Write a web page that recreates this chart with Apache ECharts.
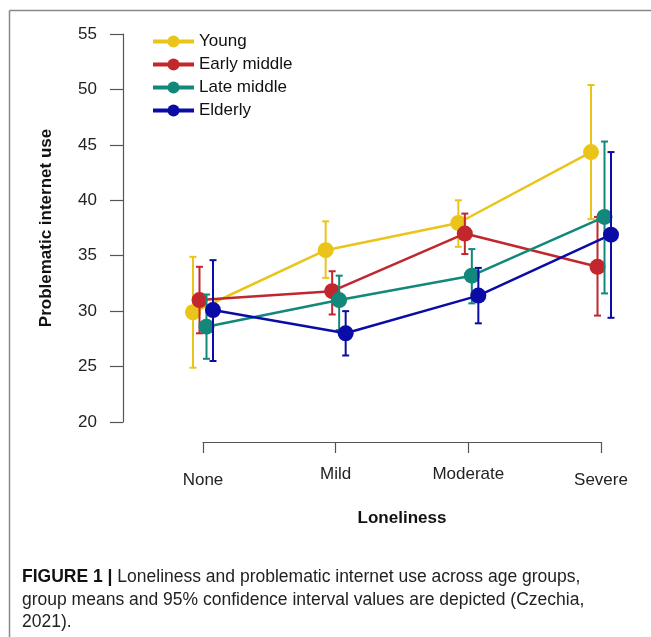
<!DOCTYPE html>
<html>
<head>
<meta charset="utf-8">
<script src="https://cdn.jsdelivr.net/npm/echarts@6/dist/echarts.min.js"></script>
<style>
html,body{margin:0;padding:0;background:#fff;}
#chart{width:651px;height:637px;}
</style>
</head>
<body>
<div id="chart"></div>
<script>
// ---- data ----
const categories = ['None', 'Mild', 'Moderate', 'Severe'];
const groupNames = ['Young', 'Early middle', 'Late middle', 'Elderly'];
const yTicks = [20, 25, 30, 35, 40, 45, 50, 55];

const youngMean = [29.9, 35.5, 37.95, 44.35];
const youngLow  = [24.9, 33.0, 35.8, 38.3];
const youngHigh = [34.9, 38.1, 40.0, 50.4];

const earlyMean = [31.0, 31.8, 37.0, 34.0];
const earlyLow  = [28.0, 29.7, 35.15, 29.6];
const earlyHigh = [34.0, 33.6, 38.8, 38.5];

const lateMean = [28.6, 31.0, 33.2, 38.5];
const lateLow  = [25.7, 28.3, 30.7, 31.6];
const lateHigh = [31.5, 33.2, 35.6, 45.3];

const elderMean = [30.1, 28.0, 31.4, 36.9];
const elderLow  = [25.5, 26.0, 28.9, 29.4];
const elderHigh = [34.6, 30.0, 33.9, 44.35];

// ---- styling ----
const colors = ['#EBC41A', '#C1272D', '#12887A', '#0B0BA8'];
const pixelOffsets = [-10, -3.5, 3.5, 10];
const groups = [
  [youngMean, youngLow, youngHigh],
  [earlyMean, earlyLow, earlyHigh],
  [lateMean, lateLow, lateHigh],
  [elderMean, elderLow, elderHigh]
];

const FONT = '"Liberation Sans", Arial, Helvetica, sans-serif';
const baseLeft = 203, baseRight = 50, baseTop = 34, baseBottom = 215;

const grids = [], xAxes = [], yAxes = [], series = [];

// base grid with visible axes
grids.push({left: baseLeft, right: baseRight, top: baseTop, bottom: baseBottom});
xAxes.push({
  type: 'category', gridIndex: 0, data: categories.map((c, i) => ({
    value: c,
    textStyle: {padding: (i === 0 || i === 3) ? [6, 0, 0, 0] : [0, 0, 0, 0]}
  })),
  boundaryGap: false, offset: 20,
  axisLine: {show: true, lineStyle: {color: '#555', width: 1.2}},
  axisTick: {show: true, length: 11, alignWithLabel: true, lineStyle: {color: '#555', width: 1.2}},
  axisLabel: {color: '#222', fontSize: 17, fontFamily: FONT, margin: 24},
  splitLine: {show: false},
  name: 'Loneliness', nameLocation: 'middle', nameGap: 68,
  nameTextStyle: {fontWeight: 'bold', fontSize: 17, color: '#111', fontFamily: FONT}
});
yAxes.push({
  type: 'value', gridIndex: 0, min: yTicks[0], max: yTicks[yTicks.length - 1], interval: 5,
  offset: 80,
  axisLine: {show: true, lineStyle: {color: '#555', width: 1.2}},
  axisTick: {show: true, length: 13, lineStyle: {color: '#555', width: 1.2}},
  axisLabel: {color: '#222', fontSize: 17, fontFamily: FONT, margin: 26},
  splitLine: {show: false},
  name: 'Problematic internet use', nameLocation: 'middle', nameGap: 68, nameRotate: 90,
  nameTextStyle: {fontWeight: 'bold', fontSize: 17, color: '#111', fontFamily: FONT}
});

groups.forEach((g, k) => {
  const gi = k + 1;
  const off = pixelOffsets[k];
  grids.push({left: baseLeft + off, right: baseRight - off, top: baseTop, bottom: baseBottom});
  xAxes.push({type: 'category', gridIndex: gi, data: categories, boundaryGap: false, show: false});
  yAxes.push({type: 'value', gridIndex: gi, min: yTicks[0], max: yTicks[yTicks.length - 1], show: false});
  const [mean, low, high] = g;
  series.push({
    name: groupNames[k] + ' CI', type: 'custom', xAxisIndex: gi, yAxisIndex: gi,
    z: 2 + k * 3,
    data: categories.map((c, i) => [i, low[i], high[i]]),
    renderItem: function (params, api) {
      const x = api.value(0);
      const lo = api.coord([x, api.value(1)]);
      const hi = api.coord([x, api.value(2)]);
      const cap = 3.5;
      const st = {stroke: colors[k], lineWidth: 2};
      return {
        type: 'group', children: [
          {type: 'line', shape: {x1: lo[0], y1: lo[1], x2: hi[0], y2: hi[1]}, style: st},
          {type: 'line', shape: {x1: lo[0] - cap, y1: lo[1], x2: lo[0] + cap, y2: lo[1]}, style: st},
          {type: 'line', shape: {x1: hi[0] - cap, y1: hi[1], x2: hi[0] + cap, y2: hi[1]}, style: st}
        ]
      };
    },
    silent: true
  });
  series.push({
    name: groupNames[k], type: 'line', xAxisIndex: gi, yAxisIndex: gi,
    z: 3 + k * 3,
    data: mean,
    symbol: 'circle', symbolSize: 16,
    lineStyle: {color: colors[k], width: 2.5},
    itemStyle: {color: colors[k]},
    animation: false
  });
});

const chart = echarts.init(document.getElementById('chart'), null, {renderer: 'canvas'});
chart.setOption({
  animation: false,
  backgroundColor: '#fff',
  color: colors,
  grid: grids, xAxis: xAxes, yAxis: yAxes, series: series,
  legend: {
    data: groupNames, orient: 'vertical', left: 146, top: 28,
    itemWidth: 41, itemHeight: 15, itemGap: 6,
    lineStyle: {width: 4},
    textStyle: {fontSize: 17, color: '#111', fontFamily: FONT},
    selectedMode: false
  },
  graphic: [
    {type: 'line', shape: {x1: 9.5, y1: 10.5, x2: 651, y2: 10.5}, style: {stroke: '#888', lineWidth: 1.5}, silent: true},
    {type: 'line', shape: {x1: 9.5, y1: 10.5, x2: 9.5, y2: 637}, style: {stroke: '#888', lineWidth: 1.5}, silent: true},
    {
      type: 'text', left: 22, top: 566, silent: true,
      style: {
        text: '{b|FIGURE 1 |} Loneliness and problematic internet use across age groups,\ngroup means and 95% confidence interval values are depicted (Czechia,\n2021).',
        font: '17.5px ' + FONT, fill: '#222', lineHeight: 22.5,
        rich: {b: {fontWeight: 'bold', fontSize: 17.5, fontFamily: FONT, fill: '#111', lineHeight: 22.5}}
      }
    }
  ]
});
</script>
</body>
</html>
